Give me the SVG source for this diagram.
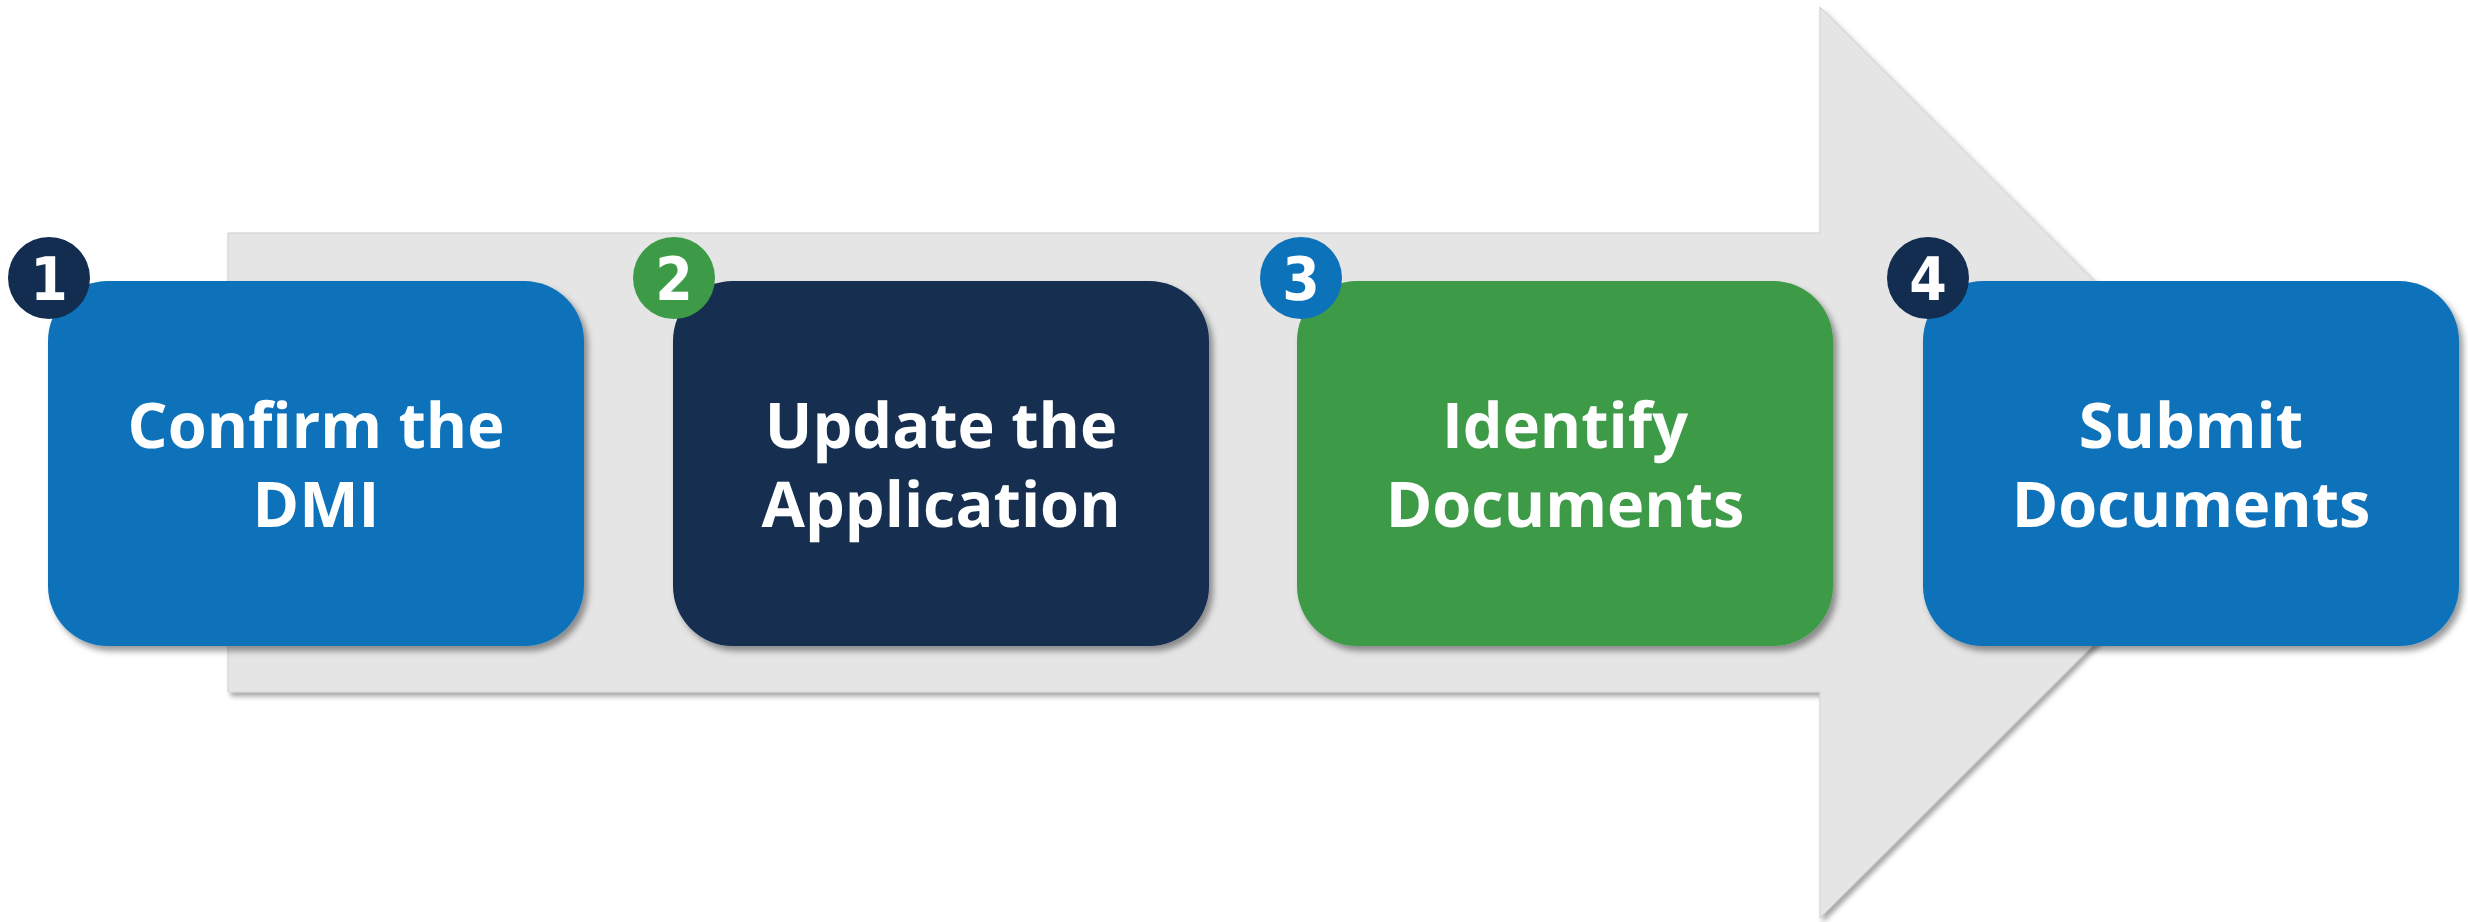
<svg xmlns="http://www.w3.org/2000/svg" width="2468" height="922" viewBox="0 0 2468 922" text-rendering="geometricPrecision">
<defs>
<filter id="sh" x="-10%" y="-10%" width="130%" height="130%">
<feDropShadow dx="4" dy="5" stdDeviation="3" flood-color="#000" flood-opacity="0.4"/>
</filter>
<filter id="ash" x="-5%" y="-5%" width="115%" height="115%">
<feDropShadow dx="3" dy="4" stdDeviation="2.5" flood-color="#000" flood-opacity="0.35"/>
</filter>
</defs>
<style>
.box{filter:url(#sh)}
.lbl{font-family:"Open Sans","Noto Sans","Liberation Sans",sans-serif;font-weight:700;font-size:63px;fill:#fff;text-anchor:middle}
.num{font-family:"DejaVu Sans Condensed","DejaVu Sans",sans-serif;font-stretch:condensed;font-weight:700;font-size:60px;fill:#fff;text-anchor:middle}
.blue{fill:#0C72BA}.navy{fill:#122D4F}.green{fill:#3D9A47}
</style>
<rect width="2468" height="922" fill="#fff"/>
<g id="connectors">
<path d="M228,233 H1820 V7 L2276,462.5 L1820,918 V692 H228 Z" fill="#E5E5E5" stroke="#cfcfcf" stroke-width="1" filter="url(#ash)"/>
</g>
<g id="step1">
<rect class="box blue" x="48" y="281" width="536" height="365" rx="60" ry="60"/>
<text class="lbl" x="316" y="448">Confirm the</text>
<text class="lbl" x="316" y="527">DMI</text>
<circle class="navy" cx="49" cy="278" r="41"/>
<text class="num" x="49" y="300">1</text>
</g>
<g id="step2">
<rect class="box navy" x="673" y="281" width="536" height="365" rx="60" ry="60"/>
<text class="lbl" x="941" y="448">Update the</text>
<text class="lbl" x="941" y="527">Application</text>
<circle class="green" cx="674" cy="278" r="41"/>
<text class="num" x="674" y="300">2</text>
</g>
<g id="step3">
<rect class="box green" x="1297" y="281" width="536" height="365" rx="60" ry="60"/>
<text class="lbl" x="1565" y="448">Identify</text>
<text class="lbl" x="1565" y="527">Documents</text>
<circle class="blue" cx="1301" cy="278" r="41"/>
<text class="num" x="1301" y="300">3</text>
</g>
<g id="step4">
<rect class="box blue" x="1923" y="281" width="536" height="365" rx="60" ry="60"/>
<text class="lbl" x="2191" y="448">Submit</text>
<text class="lbl" x="2191" y="527">Documents</text>
<circle class="navy" cx="1928" cy="278" r="41"/>
<text class="num" x="1928" y="300">4</text>
</g>
</svg>
